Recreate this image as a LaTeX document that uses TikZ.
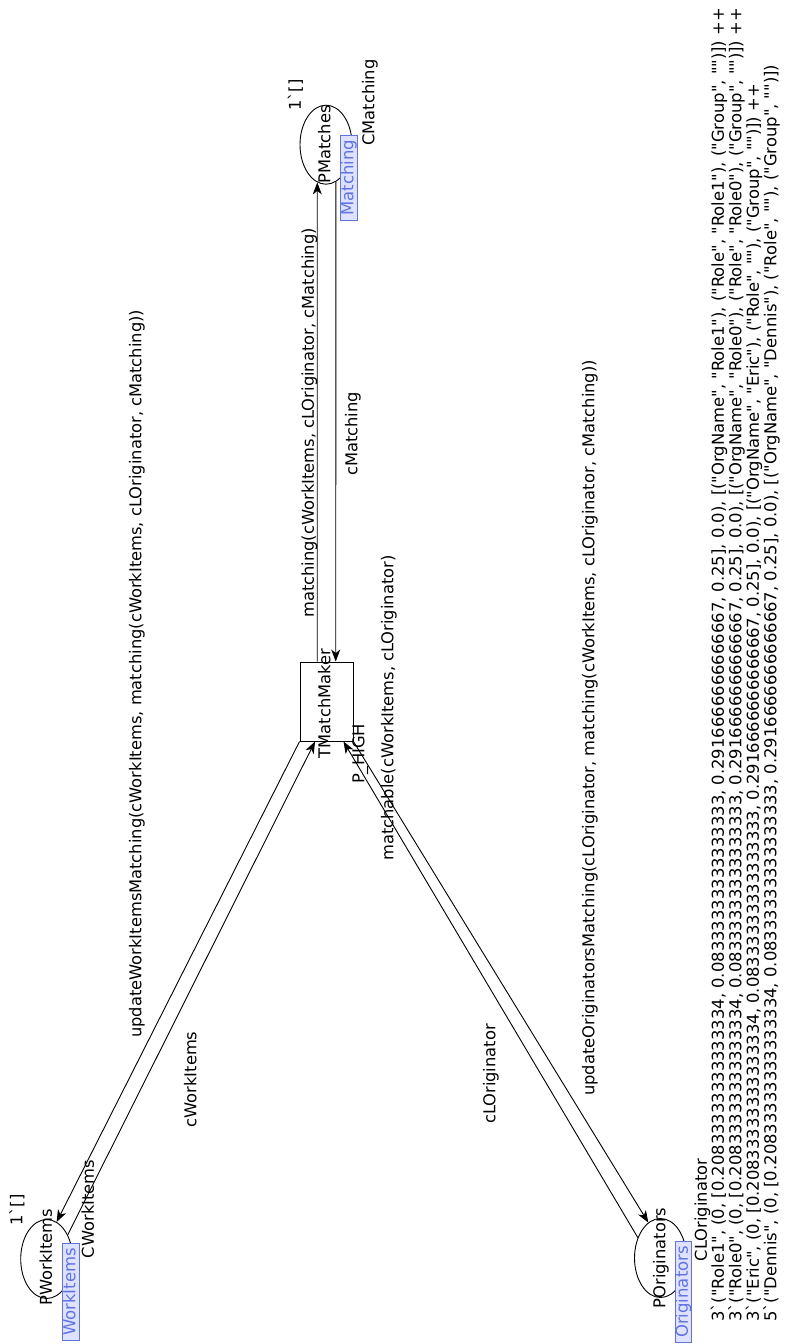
\documentclass[tikz,border=0pt]{standalone}
\usepackage{fontspec}
\setmainfont{DejaVu Sans}[Ligatures=TeXOff]
\usetikzlibrary{arrows.meta,shapes.geometric}
\definecolor{cblue}{RGB}{95,115,225}
\definecolor{cfill}{RGB}{222,226,255}
\begin{document}
\begin{tikzpicture}[x=1pt,y=-1pt,
  lab/.style={rotate=90, inner sep=0pt, font=\fontsize{16.3}{16.3}\selectfont, text height=12pt, text depth=3.5pt},
  place/.style={draw, ellipse, minimum width=52pt, minimum height=79pt, inner sep=0pt, line width=0.9pt},
  trans/.style={draw, rectangle, minimum width=53pt, minimum height=79pt, inner sep=0pt, line width=0.9pt},
  arc/.style={line width=0.9pt, -{Stealth[length=12pt,width=9pt,inset=3.5pt]}},
  ctype/.style={lab, draw=cblue, fill=cfill, text=cblue, line width=0.8pt, inner xsep=4.5pt, inner ysep=0.5pt, font=\fontsize{16.5}{16.5}\selectfont},
  marking/.style={rotate=90, inner sep=0pt, align=left, font=\fontsize{16.4}{15.2}\selectfont}
]
\fill[white] (0,0) rectangle (785,1344);
\useasboundingbox (0,0) rectangle (785,1344);

% places and transition
\node[place] (PW) at (46.7,1259) {};
\node[place] (PM) at (326,144.7) {};
\node[place] (PO) at (660.5,1258) {};
\node[trans] (T) at (326.5,701.5) {};

% arcs
\draw[arc] (T.south west) -- (PW.75);
\draw[arc] (PW.49) -- (T.-106.2);
\draw[arc] (PO.138) -- (T.-67);
\draw[arc] (T.south east) -- (PO.109);
\draw[arc] (T.103.5) -- (PM.-103.7);
\draw[arc] (PM.-75.5) -- (T.77);

% place labels
\node[lab] (pwname) at (47.5,1257) {PWorkItems};
\node[lab] (pwinit) at (18,1210) {1`[]};
\node[ctype] (pwtype) at (71,1292) {WorkItems};
\node[lab] (pwcol) at (89.5,1209) {CWorkItems};

\node[lab] (pmname) at (326,144.5) {PMatches};
\node[lab] (pminit) at (296.5,95) {1`[]};
\node[ctype] (pmtype) at (349,177.5) {Matching};
\node[lab] (pmcol) at (370,102.5) {CMatching};

\node[lab] (poname) at (661,1258) {POriginators};
\node[ctype] (potype) at (683.5,1292) {Originators};
\node[lab] (pocol) at (702.5,1210) {CLOriginator};
\node[marking, anchor=north west] (poinit) at (710.5,1322) {3`("Role1", (0, [0.20833333333333334, 0.08333333333333333, 0.2916666666666667, 0.25], 0.0), [("OrgName", "Role1"), ("Role", "Role1"), ("Group", "")]) ++\\
3`("Role0", (0, [0.20833333333333334, 0.08333333333333333, 0.2916666666666667, 0.25], 0.0), [("OrgName", "Role0"), ("Role", "Role0"), ("Group", "")]) ++\\
3`("Eric", (0, [0.20833333333333334, 0.08333333333333333, 0.2916666666666667, 0.25], 0.0), [("OrgName", "Eric"), ("Role", ""), ("Group", "")]) ++\\
5`("Dennis", (0, [0.20833333333333334, 0.08333333333333333, 0.2916666666666667, 0.25], 0.0), [("OrgName", "Dennis"), ("Role", ""), ("Group", "")])};

% transition labels
\node[lab] (tname) at (326,703.5) {TMatchMaker};
\node[lab] (tprio) at (360,754) {P\_HIGH};

% arc inscriptions
\node[lab, anchor=west] (i1) at (309.5,618) {matching(cWorkItems, cLOriginator, cMatching)};
\node[lab] (i2) at (353,434) {cMatching};
\node[lab] (i3) at (389,708) {matchable(cWorkItems, cLOriginator)};
\node[lab, anchor=west] (i4) at (137,1038) {updateWorkItemsMatching(cWorkItems, matching(cWorkItems, cLOriginator, cMatching))};
\node[lab] (i5) at (192,1079.5) {cWorkItems};
\node[lab] (i6) at (491,1074) {cLOriginator};
\node[lab, anchor=west] (i7) at (590,1096) {updateOriginatorsMatching(cLOriginator, matching(cWorkItems, cLOriginator, cMatching))};
\end{tikzpicture}
\end{document}
